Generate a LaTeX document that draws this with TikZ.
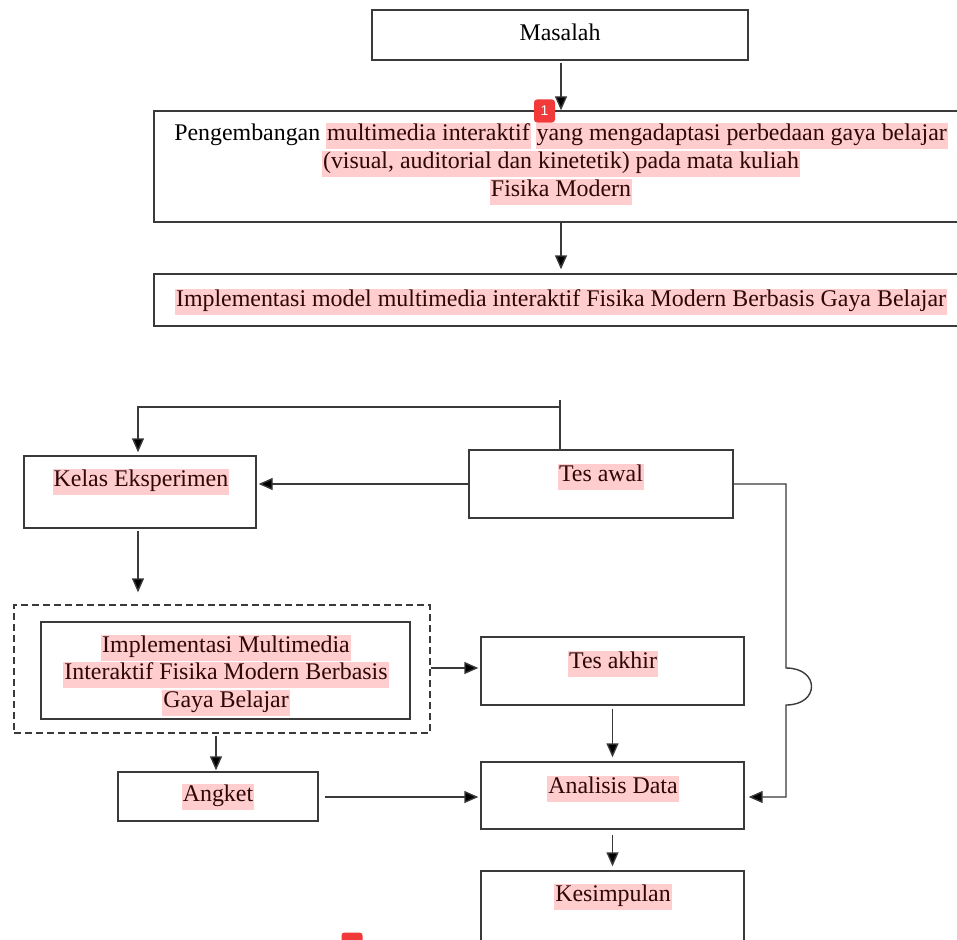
\documentclass[tikz,border=0pt]{standalone}
\usepackage{fontspec}
\setmainfont{Liberation Serif}
\newfontfamily\badgefont{Liberation Sans}
\usetikzlibrary{arrows.meta}
\definecolor{hlpink}{HTML}{FFCDCD}
\definecolor{hltext}{HTML}{2E0707}
\definecolor{linegray}{HTML}{3A3A3A}
\definecolor{badgered}{HTML}{F23A3A}
\newcommand{\hl}[1]{{\setlength{\fboxsep}{0pt}\colorbox{hlpink}{\hspace{1pt}\color{hltext}\rule[-9pt]{0pt}{25pt}#1\hspace{1pt}}}}
\tikzset{
  box/.style={draw=linegray, line width=1.4pt, rectangle, inner sep=0pt, fill=none},
  dbox/.style={draw=linegray, line width=1.4pt, rectangle, inner sep=0pt, dash pattern=on 7pt off 4pt},
  txt/.style={anchor=base, inner sep=0pt, font=\fontsize{23.9}{28}\selectfont},
  arr/.style={draw=linegray, line width=1.4pt, -{Triangle[length=14pt,width=12pt,fill=black]}},
  conn/.style={draw=linegray, line width=1.4pt},
  badge/.style={fill=badgered, rounded corners=3pt, minimum width=21pt, minimum height=23pt, inner sep=0pt, text=white, font=\badgefont\fontsize{14}{14}\selectfont}
}
\begin{document}
\begin{tikzpicture}[x=1pt,y=-1pt]
\clip (0,0) rectangle (957,939);
\fill[white] (0,0) rectangle (957,939);
% boxes
\node[box, minimum width=376pt, minimum height=50pt] (masalah) at (560,35) {};
\node[box, minimum width=811pt, minimum height=111pt] (peng) at (559.5,166.5) {};
\node[box, minimum width=811pt, minimum height=52pt] (impl) at (559.5,300) {};
\node[box, minimum width=232pt, minimum height=72pt] (kelas) at (140,492) {};
\node[box, minimum width=264pt, minimum height=68pt] (tawal) at (601,484) {};
\node[dbox, minimum width=416pt, minimum height=128pt] (dashed) at (222,669) {};
\node[box, minimum width=369pt, minimum height=97pt] (inner) at (225.5,670.5) {};
\node[box, minimum width=263pt, minimum height=68pt] (takhir) at (612.5,671) {};
\node[box, minimum width=263pt, minimum height=67pt] (analisis) at (612.5,795.5) {};
\node[box, minimum width=200pt, minimum height=49pt] (angket) at (218,796.5) {};
\node[box, minimum width=263pt, minimum height=74pt] (kesimpulan) at (612.5,908) {};
% texts
\node[txt] (tmasalah) at (560,41) {Masalah};
\node[txt] (tpeng1) at (561,140) {Pengembangan \hl{multimedia interaktif}\hspace{5pt}\hl{yang mengadaptasi perbedaan gaya belajar}};
\node[txt] (tpeng2) at (561,168) {\hl{(visual, auditorial dan kinetetik) pada mata kuliah}};
\node[txt] (tpeng3) at (561,196) {\hl{Fisika Modern}};
\node[txt] (timpl) at (561,306) {\hl{Implementasi model multimedia interaktif Fisika Modern Berbasis Gaya Belajar}};
\node[txt] (tkelas) at (141,486) {\hl{Kelas Eksperimen}};
\node[txt] (ttawal) at (601,481) {\hl{Tes awal}};
\node[txt] (tinner1) at (226,652) {\hl{Implementasi Multimedia}};
\node[txt] (tinner2) at (226,679) {\hl{Interaktif Fisika Modern Berbasis}};
\node[txt] (tinner3) at (226,707) {\hl{Gaya Belajar}};
\node[txt] (ttakhir) at (613,668) {\hl{Tes akhir}};
\node[txt] (tanalisis) at (613,793) {\hl{Analisis Data}};
\node[txt] (tangket) at (218,801) {\hl{Angket}};
\node[txt] (tkesimpulan) at (613,901) {\hl{Kesimpulan}};
% connectors
\draw[arr, shorten <=2pt] (masalah.south -| 561,0) -- (peng.north -| 561,0);
\draw[arr, shorten >=4pt] (peng.south -| 561,0) -- (impl.north -| 561,0);
\coordinate (top) at (560,400);
\coordinate (split) at (560,407);
\draw[conn] (top) -- (tawal.north -| top) -- ++(7,0);
\draw[arr, shorten >=3pt] (split) -| (kelas.north -| 138,0);
\draw[arr, shorten >=2pt] (tawal.west) -- (tawal.west -| kelas.east);
\coordinate (bumpA) at (786,668);
\coordinate (bumpB) at (786,705);
\draw[arr, shorten >=4pt] (tawal.east) -- (tawal.east -| bumpA) -- (bumpA) .. controls (820,668) and (820,705) .. (bumpB) -- (bumpB |- 0,797) -- (analisis.east |- 0,797);
\draw[arr, shorten <=2pt, shorten >=12pt] (kelas.south -| 138,0) -- (dashed.north -| 138,0);
\draw[arr, shorten >=2pt] (dashed.east |- 0,668) -- (takhir.west |- 0,668);
\draw[arr, shorten <=2pt, shorten >=1pt] (dashed.south -| 216,0) -- (angket.north -| 216,0);
\draw[arr, shorten <=6pt, shorten >=2pt] (angket.east |- 0,797) -- (analisis.west |- 0,797);
\draw[arr, shorten <=3pt, shorten >=4pt] (takhir.south) -- (analisis.north);
\draw[arr, shorten <=5pt, shorten >=4pt] (analisis.south) -- (kesimpulan.north);
% badges
\node[badge] (badge1) at (544.5,111) {1};
\node[badge] (badge2) at (352,944) {};
\end{tikzpicture}
\end{document}
